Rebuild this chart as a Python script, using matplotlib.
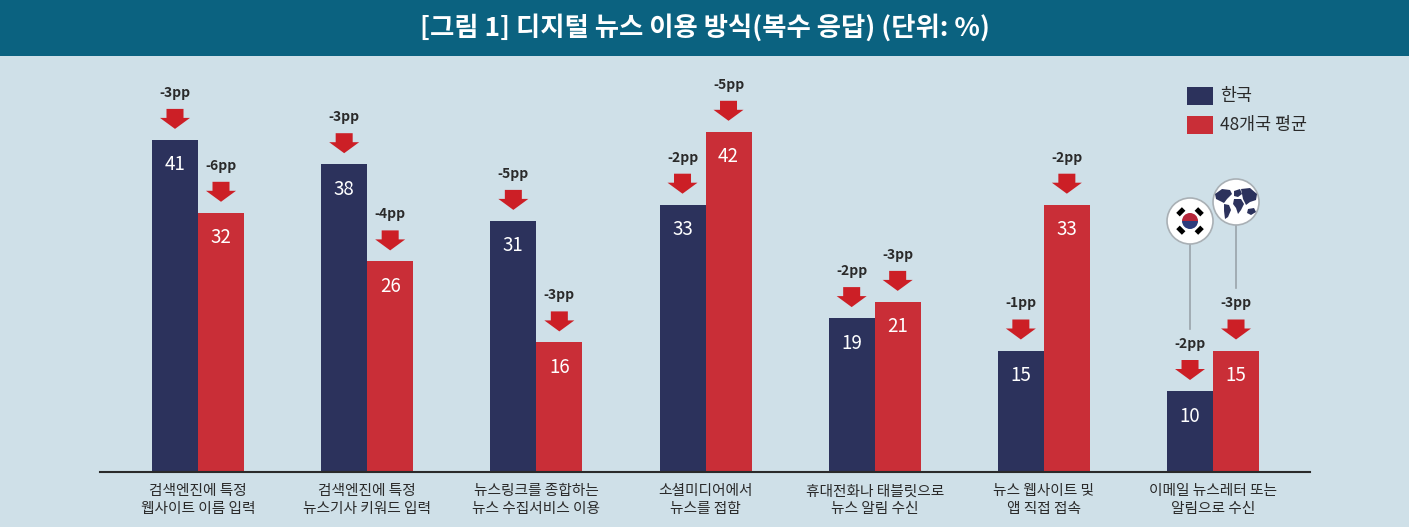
import matplotlib
matplotlib.use("Agg")
import matplotlib.pyplot as plt
from matplotlib.patches import Polygon, Rectangle, Circle, Wedge
import numpy as np

plt.rcParams['font.family'] = ['Noto Sans CJK KR', 'DejaVu Sans']

title = "[그림 1] 디지털 뉴스 이용 방식(복수 응답) (단위: %)"
categories = ["검색엔진에 특정\n웹사이트 이름 입력",
              "검색엔진에 특정\n뉴스기사 키워드 입력",
              "뉴스링크를 종합하는\n뉴스 수집서비스 이용",
              "소셜미디어에서\n뉴스를 접함",
              "휴대전화나 태블릿으로\n뉴스 알림 수신",
              "뉴스 웹사이트 및\n앱 직접 접속",
              "이메일 뉴스레터 또는\n알림으로 수신"]
korea = [41, 38, 31, 33, 19, 15, 10]
avg48 = [32, 26, 16, 42, 21, 33, 15]
korea_change = ["-3pp", "-3pp", "-5pp", "-2pp", "-2pp", "-1pp", "-2pp"]
avg_change = ["-6pp", "-4pp", "-3pp", "-5pp", "-3pp", "-2pp", "-3pp"]
series_names = ["한국", "48개국 평균"]

NAVY = "#2c325c"
RED = "#c92e37"
ARROW = "#cc1f26"
BG = "#cfe0e8"
BAR_TITLE = "#0b6280"
TXT = "#2a2a2a"

W, H = 1409, 527
fig = plt.figure(figsize=(W / 100, H / 100), dpi=100, facecolor=BG)

# title bar
fig.patches.append(Rectangle((0, 1 - 56 / H), 1, 56 / H, transform=fig.transFigure,
                             facecolor=BAR_TITLE, edgecolor='none', zorder=0))
fig.text(0.5, 1 - 28 / H, title, color='white', fontsize=19, fontweight='bold',
         ha='center', va='center')

# main axes
left_px, right_px, base_px, top_px = 100, 1310, 472, 60
ax = fig.add_axes([left_px / W, (H - base_px) / H, (right_px - left_px) / W, (base_px - top_px) / H])
ax.set_facecolor('none')
ppu_y = 8.1
ymax = (base_px - top_px) / ppu_y
spacing = 169.17
c0 = 198
xl = -(c0 - left_px) / spacing
xr = (right_px - c0) / spacing
ax.set_xlim(xl, xr)
ax.set_ylim(0, ymax)
ppu_x = spacing

x = np.arange(len(categories))
bw = 46 / ppu_x
ax.bar(x - bw / 2, korea, bw, color=NAVY, zorder=2, label=series_names[0])
ax.bar(x + bw / 2, avg48, bw, color=RED, zorder=2, label=series_names[1])

for s in ['top', 'left', 'right']:
    ax.spines[s].set_visible(False)
ax.spines['bottom'].set_color(TXT)
ax.spines['bottom'].set_linewidth(1.5)
ax.set_yticks([])
ax.set_xticks(x)
ax.set_xticklabels(categories, fontsize=10.6, color=TXT, linespacing=1.3, fontweight='medium')
ax.tick_params(axis='x', length=0, pad=9)

def arrow(xc, v):
    tip = v + 11 / ppu_y
    hw, sw = 15 / ppu_x, 8.5 / ppu_x
    hh, tot = 11 / ppu_y, 20 / ppu_y
    pts = [(xc, tip), (xc - hw, tip + hh), (xc - sw, tip + hh), (xc - sw, tip + tot),
           (xc + sw, tip + tot), (xc + sw, tip + hh), (xc + hw, tip + hh)]
    ax.add_patch(Polygon(pts, closed=True, facecolor=ARROW, edgecolor='none', zorder=3))

for i in range(len(categories)):
    for xc, v, ch in [(x[i] - bw / 2, korea[i], korea_change[i]),
                      (x[i] + bw / 2, avg48[i], avg_change[i])]:
        arrow(xc, v)
        ax.text(xc, v + 47 / ppu_y, ch, ha='center', va='center', fontsize=10,
                fontweight='bold', color=TXT, zorder=4)
        ax.text(xc, v - 25 / ppu_y, str(v), ha='center', va='center', fontsize=13.5,
                color='white', fontweight='light', zorder=4)

# legend
for j, (name, col) in enumerate(zip(series_names, [NAVY, RED])):
    y0 = 87 + j * 29
    fig.patches.append(Rectangle((1187 / W, 1 - (y0 + 18) / H), 26 / W, 18 / H,
                                 transform=fig.transFigure, facecolor=col, edgecolor='none'))
    fig.text(1220 / W, 1 - (y0 + 9) / H, name, fontsize=12.5, color=TXT, va='center', ha='left')

# icons (Korean flag, globe) with connector lines
ov = fig.add_axes([0, 0, 1, 1])
ov.set_xlim(0, W)
ov.set_ylim(H, 0)
ov.axis('off')
ov.set_facecolor('none')
ov.set_aspect('equal')

def data_to_px(xd, yd):
    disp = ax.transData.transform((xd, yd))
    return disp[0], H - disp[1]

kx, ky = data_to_px(x[6] - bw / 2, korea[6] + 47 / ppu_y)
gx, gy = data_to_px(x[6] + bw / 2, avg48[6] + 47 / ppu_y)
fx, fy, r = kx, 221, 23
wx, wy = gx, 202
ov.plot([fx, fx], [fy + r, ky - 15], color='#9aa3aa', lw=1.2)
ov.plot([wx, wx], [wy + r, gy - 16], color='#9aa3aa', lw=1.2)

# flag
ov.add_patch(Circle((fx, fy), r, facecolor='white', edgecolor='#a9b0b5', lw=1.2, zorder=5))
ov.add_patch(Wedge((fx, fy), 8, 180, 360, facecolor='#b5263a', zorder=6))
ov.add_patch(Wedge((fx, fy), 8, 0, 180, facecolor='#2c3c7c', zorder=6))
for ang in [45, 135, 225, 315]:
    a = np.deg2rad(ang)
    cx, cy = fx + 13 * np.cos(a), fy + 13 * np.sin(a)
    rect = Rectangle((cx - 4, cy - 2.5), 8, 5, facecolor='black', zorder=6)
    t = matplotlib.transforms.Affine2D().rotate_deg_around(cx, cy, ang + 90) + ov.transData
    rect.set_transform(t)
    ov.add_patch(rect)

# globe (stylised world map)
ov.add_patch(Circle((wx, wy), r, facecolor='white', edgecolor='#a9b0b5', lw=1.2, zorder=5))
continents = [
    [(-21, -8), (-14, -13), (-6, -12), (-4, -8), (-9, -3), (-12, 1), (-16, -1), (-20, -3)],  # N America
    [(-12, 2), (-7, 3), (-5, 8), (-8, 15), (-11, 17), (-12, 9)],  # S America
    [(-2, -11), (4, -13), (6, -8), (2, -5), (-2, -6)],  # Europe
    [(-2, -3), (5, -3), (8, 2), (5, 8), (2, 12), (0, 6), (-3, 2)],  # Africa
    [(5, -13), (14, -14), (21, -8), (20, -2), (14, 0), (10, 3), (7, -3), (6, -8)],  # Asia
    [(12, 7), (18, 6), (20, 10), (15, 13), (11, 11)],  # Australia
]
for poly in continents:
    ov.add_patch(Polygon([(wx + px, wy + py) for px, py in poly], closed=True,
                         facecolor=NAVY, edgecolor='none', zorder=6))

fig.savefig("out.png", dpi=100, facecolor=BG)
